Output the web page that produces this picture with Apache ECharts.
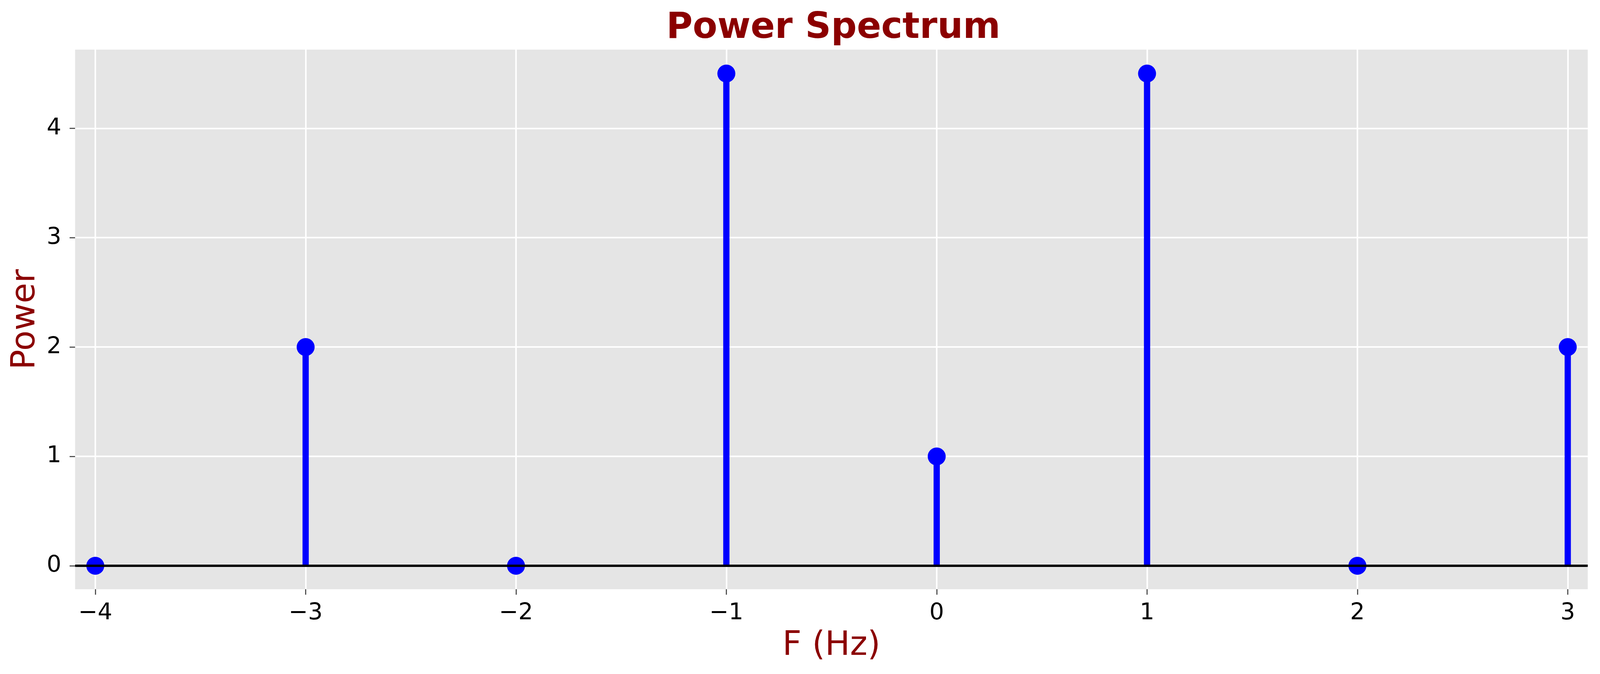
<!DOCTYPE html>
<html>
<head>
<meta charset="utf-8">
<title>Power Spectrum</title>
<script src="https://cdn.jsdelivr.net/npm/echarts@6/dist/echarts.min.js"></script>
<style>
  html, body { margin: 0; padding: 0; background: #fff; overflow: hidden; }
  #chart { width: 100vw; height: 100vh; }
</style>
</head>
<body>
<div id="chart"></div>
<script>
// 주파수 (Hz) 와 파워 값
const freqs = [-4, -3, -2, -1, 0, 1, 2, 3];
const powers = [0, 2, 0, 4.5, 1, 4.5, 0, 2];

// 눈금
const xTicks = [-4, -3, -2, -1, 0, 1, 2, 3];
const yTicks = [0, 1, 2, 3, 4];

const points = freqs.map((f, i) => [f, powers[i]]);

const el = document.getElementById('chart');
const chart = echarts.init(el, null, { renderer: 'canvas' });

// 기준 크기 4176x1725 에 맞춘 가로 비율
const kx = chart.getWidth() / 4176;

const FONT = '"DejaVu Sans", sans-serif';
const DARKRED = '#8B0000';
const BLUE = '#0000FF';

const tickLabel = { color: '#000', fontFamily: FONT, fontSize: 59 };
const tickStyle = { show: true, length: 14, lineStyle: { color: '#555', width: 3 } };
const gridLine = { show: true, lineStyle: { color: '#fff', width: 4 } };

chart.setOption({
  animation: false,
  backgroundColor: '#fff',
  title: {
    text: 'Power Spectrum',
    left: 2170 * kx,
    textAlign: 'center',
    top: 22,
    textStyle: {
      color: DARKRED,
      fontFamily: FONT,
      fontWeight: 'bold',
      fontSize: 92,
      lineHeight: 92
    }
  },
  grid: {
    left: 196 * kx,
    right: 32 * kx,
    top: 127,
    bottom: 217,
    show: true,
    backgroundColor: '#E5E5E5',
    borderWidth: 0
  },
  xAxis: {
    type: 'value',
    min: -4.096,
    max: 3.095,
    name: 'F (Hz)',
    nameLocation: 'middle',
    nameGap: 103,
    nameTextStyle: { color: DARKRED, fontFamily: FONT, fontSize: 85, lineHeight: 85 },
    axisLine: { show: false, onZero: false },
    axisTick: { ...tickStyle, customValues: xTicks },
    axisLabel: { ...tickLabel, margin: 32, lineHeight: 59, customValues: xTicks,
      formatter: v => (v < 0 ? '\u2212' + Math.abs(v) : String(v)) },
    splitLine: gridLine
  },
  yAxis: {
    type: 'value',
    min: -0.214,
    max: 4.719,
    name: 'Power',
    nameLocation: 'middle',
    nameGap: 72 * kx,
    nameTextStyle: { color: DARKRED, fontFamily: FONT, fontSize: 85, lineHeight: 85 },
    axisLine: { show: false, onZero: false },
    axisTick: { ...tickStyle, customValues: yTicks },
    axisLabel: { ...tickLabel, margin: 36 * kx, customValues: yTicks },
    splitLine: gridLine
  },
  series: [
    {
      // 줄기 (stem)
      type: 'custom',
      z: 2,
      data: points,
      renderItem: (params, api) => {
        const p0 = api.coord([api.value(0), 0]);
        const p1 = api.coord([api.value(0), api.value(1)]);
        return {
          type: 'line',
          shape: { x1: p0[0], y1: p0[1], x2: p1[0], y2: p1[1] },
          style: { stroke: BLUE, lineWidth: 16 }
        };
      },
      markLine: {
        silent: true,
        symbol: 'none',
        label: { show: false },
        lineStyle: { color: '#000', width: 6, type: 'solid' },
        data: [{ yAxis: 0 }]
      }
    },
    {
      // 마커
      type: 'scatter',
      z: 4,
      data: points,
      symbol: 'circle',
      symbolSize: 46,
      itemStyle: { color: BLUE, opacity: 1 }
    }
  ]
});
</script>
</body>
</html>
